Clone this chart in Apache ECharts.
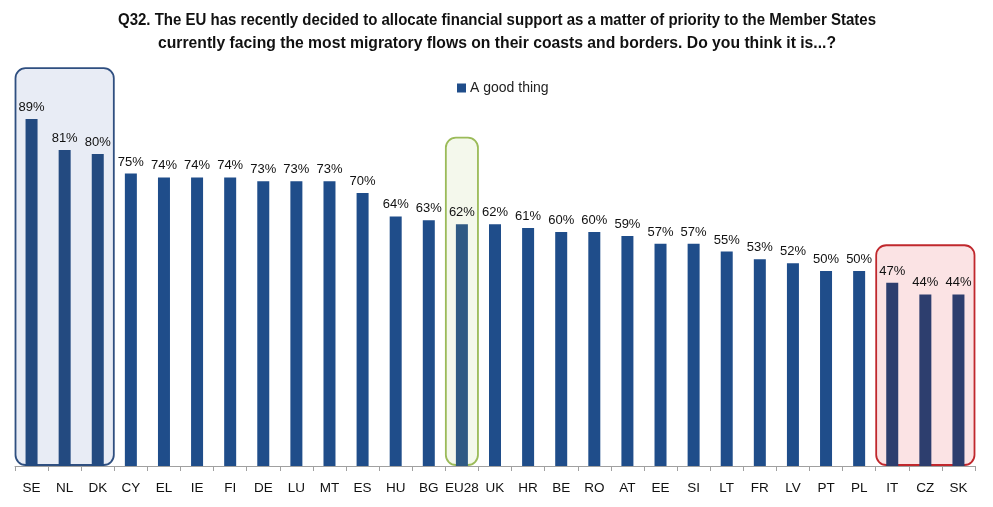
<!DOCTYPE html>
<html>
<head>
<meta charset="utf-8">
<script src="https://cdn.jsdelivr.net/npm/echarts@6/dist/echarts.min.js"></script>
<style>
html,body{margin:0;padding:0;background:#fff;}
#c{width:993px;height:507px;}
</style>
</head>
<body>
<div id="c"></div>
<script>
const titleLines = [
  "Q32. The EU has recently decided to allocate financial support as a matter of priority to the Member States",
  "currently facing the most migratory flows on their coasts and borders. Do you think it is...?"
];
const seriesName = "A good thing";
const categories = ["SE","NL","DK","CY","EL","IE","FI","DE","LU","MT","ES","HU","BG","EU28","UK","HR","BE","RO","AT","EE","SI","LT","FR","LV","PT","PL","IT","CZ","SK"];
const values = [89,81,80,75,74,74,74,73,73,73,70,64,63,62,62,61,60,60,59,57,57,55,53,52,50,50,47,44,44];

// highlight boxes: [first category, last category, top value]
const boxes = [
  {from:"SE", to:"DK", top:102, fill:"#e8ecf5", stroke:"#2f4f80", bar:"#234a80"},
  {from:"EU28", to:"EU28", top:84.2, fill:"#f4f8ec", stroke:"#9bbb59", bar:"#2f5a84"},
  {from:"IT", to:"SK", top:56.6, fill:"#fbe3e4", stroke:"#c0282d", bar:"#2d3e6e"}
];

const baseColor = "#1f4d8a";
const barColors = categories.map(() => baseColor);
boxes.forEach(b => {
  const i0 = categories.indexOf(b.from), i1 = categories.indexOf(b.to);
  for (let i = i0; i <= i1; i++) barColors[i] = b.bar;
});

const chart = echarts.init(document.getElementById('c'), null, {renderer:'canvas'});
const font = "Liberation Sans, Arial, sans-serif";
chart.setOption({
  animation: false,
  backgroundColor: "#fff",
  legend: {
    data: [seriesName],
    top: 76,
    left: 452,
    icon: "rect",
    itemWidth: 9,
    itemHeight: 9,
    itemGap: 4,
    textStyle: {fontFamily: font, fontSize: 14, color: "#222", padding:[0,0,0,-1]}
  },
  grid: {left: 15, right: 18, top: 76, bottom: 41, containLabel: false},
  xAxis: {
    type: "category",
    data: categories,
    axisLine: {lineStyle: {color: "#a0a0a0", width: 1}},
    axisTick: {show: true, length: 5, lineStyle: {color: "#a0a0a0"}},
    axisLabel: {fontFamily: font, fontSize: 13.5, color: "#111", margin: 15, interval: 0}
  },
  yAxis: {
    type: "value",
    min: 0, max: 100,
    show: false,
    splitLine: {show: false}
  },
  series: [{
    name: seriesName,
    type: "bar",
    barWidth: 12,
    data: values.map((v, i) => ({value: v, itemStyle: {color: barColors[i]}})),
    itemStyle: {color: baseColor},
    label: {
      show: true,
      position: "top",
      distance: 5,
      formatter: p => p.value + "%",
      fontFamily: font,
      fontSize: 13,
      color: "#111"
    }
  }]
});

// draw the highlight boxes from the axis scales
const c0 = chart.convertToPixel({xAxisIndex:0}, 0);
const c1 = chart.convertToPixel({xAxisIndex:0}, 1);
const band = c1 - c0;
const yBase = chart.convertToPixel({yAxisIndex:0}, 0);
const graphics = boxes.map(b => {
  const i0 = categories.indexOf(b.from), i1 = categories.indexOf(b.to);
  const x0 = chart.convertToPixel({xAxisIndex:0}, i0) - band/2 + 0.5;
  const x1 = chart.convertToPixel({xAxisIndex:0}, i1) + band/2 - 0.5;
  const yTop = chart.convertToPixel({yAxisIndex:0}, b.top);
  return {
    type: "rect",
    z: 0,
    shape: {x: x0, y: yTop, width: x1 - x0, height: yBase - 1 - yTop, r: 10},
    style: {fill: b.fill, stroke: b.stroke, lineWidth: 1.8}
  };
});

// condensed bold title (Arial Narrow look), horizontally compressed real text
const titleFont = "bold 17px 'Liberation Sans', Arial, sans-serif";
const titleWidths = [758, 678];
const titleY = [20, 43];
const ctx = document.createElement("canvas").getContext("2d");
ctx.font = titleFont;
titleLines.forEach((t, i) => {
  const w = ctx.measureText(t).width;
  graphics.push({
    type: "text",
    x: 497, y: titleY[i],
    scaleX: titleWidths[i] / w,
    z: 10,
    style: {text: t, font: titleFont, fill: "#111", textAlign: "center", textVerticalAlign: "middle"}
  });
});
chart.setOption({graphic: graphics});
</script>
</body>
</html>
